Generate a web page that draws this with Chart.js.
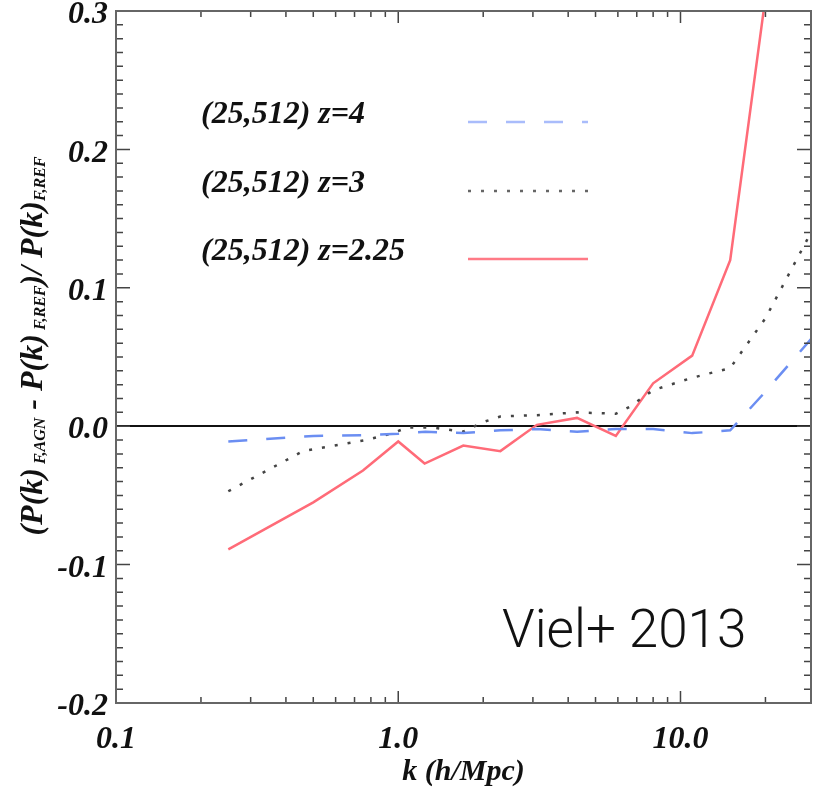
<!DOCTYPE html>
<html>
<head>
<meta charset="utf-8">
<script src="https://cdn.jsdelivr.net/npm/chart.js@4.4.0/dist/chart.umd.min.js"></script>
<style>
    html, body { margin: 0; padding: 0; background: #fff; }
</style>
</head>
<body>
<canvas id="myChart" width="821" height="800"></canvas>
<script>
// k values (h/Mpc) and flux power ratio for each run
const kZ4 = [0.25, 0.5, 0.75, 1.0, 1.25, 1.7, 2.3, 3.1, 4.3, 5.9, 8.0, 11, 15, 20, 29];
const valZ4 = [-0.011, -0.007, -0.0065, -0.0055, -0.004, -0.005, -0.003, -0.002, -0.004, -0.002, -0.002, -0.005, -0.003, 0.025, 0.063];

const kZ3 = [0.25, 0.46, 0.77, 0.96, 1.07, 1.33, 1.7, 2.0, 2.3, 3.1, 4.3, 5.9, 6.6, 8.0, 11, 15, 20, 29];
const valZ3 = [-0.047, -0.018, -0.010, -0.005, -0.001, -0.001, -0.004, 0.003, 0.007, 0.008, 0.010, 0.009, 0.014, 0.026, 0.035, 0.042, 0.078, 0.14];

const kZ225 = [0.25, 0.5, 0.75, 1.0, 1.24, 1.7, 2.3, 3.1, 4.3, 5.9, 8.0, 11, 15, 20];
const valZ225 = [-0.089, -0.055, -0.032, -0.011, -0.027, -0.014, -0.018, 0.001, 0.006, -0.007, 0.031, 0.051, 0.120, 0.31];

// Axis ticks
const xTickVals = [0.1, 1, 10];
const yTickVals = [-0.2, -0.1, 0, 0.1, 0.2, 0.3];

// Legend entries
const legendLabels = ['(25,512) z=4', '(25,512) z=3', '(25,512) z=2.25'];

// Y axis title pieces: [text, isSubscript]
const yTitleParts = [['(P(k)', false], [' F,AGN', true], [' - P(k)', false], [' F,REF', true], [')/ P(k)', false], ['F,REF', true]];

const serif = '"Liberation Serif", "Times New Roman", serif';

function toPoints(ks, vals) {
    return ks.map((k, i) => ({ x: k, y: vals[i] }));
}

// Frame, inward ticks, legend and texts
const decorPlugin = {
    id: 'decor',
    afterDraw(chart) {
        const ctx = chart.ctx;
        const ca = chart.chartArea;
        const xs = chart.scales.x;
        const ys = chart.scales.y;

        ctx.save();
        // minor / major ticks pointing inward
        ctx.strokeStyle = '#444';
        ctx.lineWidth = 1.5;
        ctx.beginPath();
        for (let i = -20; i <= 30; i++) {
            const py = ys.getPixelForValue(i / 100);
            const len = i % 10 === 0 ? 14 : 7;
            ctx.moveTo(ca.left, py); ctx.lineTo(ca.left + len, py);
            ctx.moveTo(ca.right, py); ctx.lineTo(ca.right - len, py);
        }
        [0.1, 1, 10].forEach(d => {
            for (let m = 1; m <= 9; m++) {
                const v = d * m;
                if (v > xs.max) break;
                const px = xs.getPixelForValue(v);
                const len = m === 1 ? 12 : 6;
                ctx.moveTo(px, ca.bottom); ctx.lineTo(px, ca.bottom - len);
                ctx.moveTo(px, ca.top); ctx.lineTo(px, ca.top + len);
            }
        });
        ctx.stroke();

        // frame
        ctx.strokeStyle = '#666';
        ctx.lineWidth = 2;
        ctx.strokeRect(ca.left, ca.top, ca.right - ca.left, ca.bottom - ca.top);

        // legend
        const styles = chart.data.datasets;
        const rows = [123, 192, 260];
        ctx.font = 'italic bold 32px ' + serif;
        ctx.fillStyle = '#111';
        ctx.textBaseline = 'alphabetic';
        ctx.textAlign = 'left';
        legendLabels.forEach((txt, i) => {
            ctx.fillText(txt, 201, rows[i]);
            const ds = styles[i];
            ctx.beginPath();
            ctx.strokeStyle = ds.legendColor;
            ctx.lineWidth = ds.borderWidth;
            ctx.setLineDash(ds.borderDash || []);
            ctx.moveTo(468, rows[i] - 1);
            ctx.lineTo(588, rows[i] - 1);
            ctx.stroke();
        });
        ctx.setLineDash([]);

        // y axis title with subscripts
        const mainFont = 'italic bold 32px ' + serif;
        const subFont = 'italic bold 16px ' + serif;
        let total = 0;
        yTitleParts.forEach(p => {
            ctx.font = p[1] ? subFont : mainFont;
            total += ctx.measureText(p[0]).width;
        });
        ctx.translate(42, 346);
        ctx.rotate(-Math.PI / 2);
        let cx = -total / 2;
        yTitleParts.forEach(p => {
            ctx.font = p[1] ? subFont : mainFont;
            ctx.fillText(p[0], cx, p[1] ? 3 : 0);
            cx += ctx.measureText(p[0]).width;
        });
        ctx.restore();

        // reference note
        ctx.save();
        ctx.font = '300 53px Roboto, "Liberation Sans", sans-serif';
        ctx.fillStyle = '#111';
        ctx.textBaseline = 'alphabetic';
        ctx.fillText('Viel+ 2013', 502, 647);
        ctx.restore();
    }
};

const ctx = document.getElementById('myChart').getContext('2d');
const myChart = new Chart(ctx, {
    type: 'line',
    data: {
        datasets: [
            {
                label: legendLabels[0],
                data: toPoints(kZ4, valZ4),
                borderColor: '#6b8ef2',
                legendColor: '#a9bcfb',
                borderWidth: 2.5,
                borderDash: [19, 19],
                pointRadius: 0,
                tension: 0
            },
            {
                label: legendLabels[1],
                data: toPoints(kZ3, valZ3),
                borderColor: '#444',
                legendColor: '#666',
                borderWidth: 2.5,
                borderDash: [3, 10],
                pointRadius: 0,
                tension: 0
            },
            {
                label: legendLabels[2],
                data: toPoints(kZ225, valZ225),
                borderColor: '#ff6b78',
                legendColor: '#ff7a86',
                borderWidth: 2.5,
                pointRadius: 0,
                tension: 0
            }
        ]
    },
    options: {
        responsive: false,
        animation: false,
        layout: { padding: { top: 11, right: 10, left: 0, bottom: 0 } },
        plugins: {
            legend: { display: false },
            tooltip: { enabled: false }
        },
        scales: {
            x: {
                type: 'logarithmic',
                min: 0.1,
                max: 29,
                grid: { display: false },
                border: { display: false },
                afterBuildTicks: s => { s.ticks = xTickVals.map(v => ({ value: v })); },
                afterFit: s => { s.height = 97; s.paddingLeft = 0; s.paddingRight = 0; },
                ticks: {
                    autoSkip: false,
                    maxRotation: 0,
                    padding: 10,
                    color: '#111',
                    font: { family: serif, size: 32, style: 'italic', weight: 'bold' },
                    callback: v => v.toFixed(1)
                },
                title: {
                    display: true,
                    text: 'k (h/Mpc)',
                    color: '#111',
                    font: { family: serif, size: 30, style: 'italic', weight: 'bold' },
                    padding: { top: 0, bottom: 10 }
                }
            },
            y: {
                type: 'linear',
                min: -0.2,
                max: 0.3,
                border: { display: false },
                grid: {
                    drawTicks: false,
                    lineWidth: 2,
                    color: c => (c.tick && Math.abs(c.tick.value) < 1e-9 ? '#111' : 'rgba(0,0,0,0)')
                },
                afterBuildTicks: s => { s.ticks = yTickVals.map(v => ({ value: v })); },
                afterFit: s => { s.width = 116; s.paddingTop = 0; s.paddingBottom = 0; },
                ticks: {
                    padding: 8,
                    labelOffset: 4,
                    color: '#111',
                    font: { family: serif, size: 32, style: 'italic', weight: 'bold' },
                    callback: v => (Math.abs(v) < 1e-9 ? '0.0' : v.toFixed(1))
                }
            }
        }
    },
    plugins: [decorPlugin]
});
</script>
</body>
</html>
